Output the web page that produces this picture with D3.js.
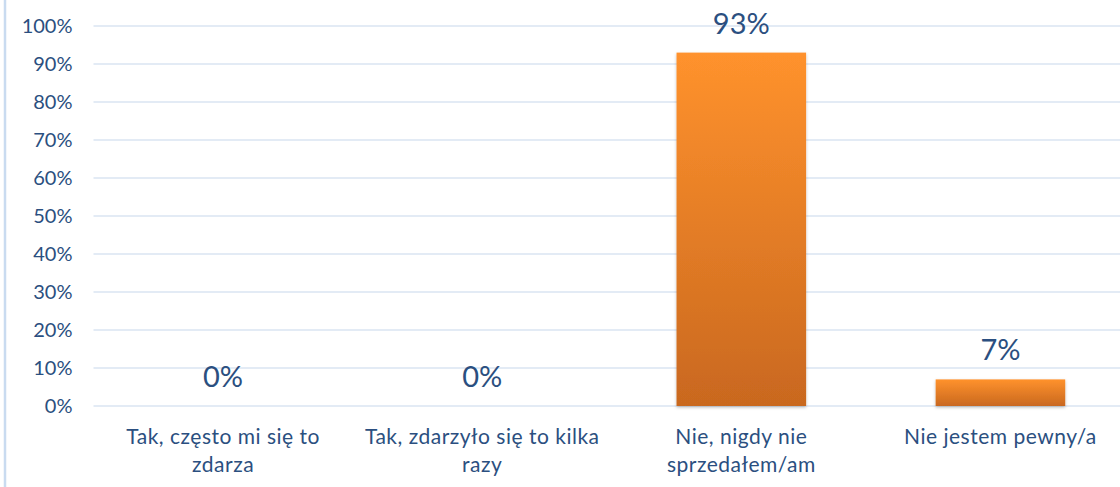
<!DOCTYPE html>
<html>
<head>
<meta charset="utf-8">
<script src="https://cdn.jsdelivr.net/npm/d3@7"></script>
<style>
  body { margin: 0; background: #fff; }
  .chart { width: 1120px; height: 487px; }
  text { font-family: Lato, "Open Sans", sans-serif; fill: #2b4f80; }
</style>
</head>
<body>
<div class="chart"></div>
<script>
/* data */
var categories = [
    "Tak, często mi się to zdarza",
    "Tak, zdarzyło się to kilka razy",
    "Nie, nigdy nie sprzedałem/am",
    "Nie jestem pewny/a"
];
var values = [0, 0, 93, 7];
var yTicks = [0, 10, 20, 30, 40, 50, 60, 70, 80, 90, 100];

var target = document.querySelector(".chart");
var margin = { top: 26, right: -10, bottom: 81, left: 93.5 };
var width = 1120 - margin.left - margin.right;
var height = 487 - margin.top - margin.bottom;

var xScale = d3.scaleBand()
    .domain(categories)
    .range([0, width])
    .paddingInner(0.5)
    .paddingOuter(0.25);
var yScale = d3.scaleLinear().domain([0, 100]).range([height, 0]);

var root = d3.select(target).append("svg")
    .attr("width", 1120)
    .attr("height", 487);

// left frame line
root.append("line")
    .attr("x1", 5).attr("x2", 5)
    .attr("y1", 0).attr("y2", 487)
    .attr("stroke", "#c9dbf0")
    .attr("stroke-width", 2.5);

var defs = root.append("defs");
var grad = defs.append("linearGradient")
    .attr("id", "barGrad")
    .attr("x1", 0).attr("y1", 0).attr("x2", 0).attr("y2", 1);
grad.append("stop").attr("offset", "0%").attr("stop-color", "#ff922d");
grad.append("stop").attr("offset", "100%").attr("stop-color", "#c9681f");

var shadow = defs.append("filter").attr("id", "shadow")
    .attr("x", "-10%").attr("y", "-10%").attr("width", "120%").attr("height", "130%");
shadow.append("feDropShadow")
    .attr("dx", 0).attr("dy", 1.5)
    .attr("stdDeviation", 1.5)
    .attr("flood-color", "#000")
    .attr("flood-opacity", 0.25);

var svg = root.append("g")
    .attr("transform", "translate(" + margin.left + "," + margin.top + ")");

// gridlines
svg.append("g")
    .selectAll("line")
    .data(yTicks)
    .enter().append("line")
    .attr("x1", 0)
    .attr("x2", width)
    .attr("y1", function(d) { return yScale(d); })
    .attr("y2", function(d) { return yScale(d); })
    .attr("stroke", "#dae5f2")
    .attr("stroke-width", 1.5);

// y axis
var yAxis = svg.append("g")
    .call(d3.axisLeft(yScale)
        .tickValues(yTicks)
        .tickSize(0)
        .tickPadding(21)
        .tickFormat(function(d) { return d + "%"; }));
yAxis.select(".domain").remove();
yAxis.selectAll("text")
    .attr("font-size", 20)
    .style("font-family", "Lato, sans-serif")
    .attr("fill", "#2b4f80");

// bars
svg.selectAll(".bar")
    .data(values)
    .enter().append("rect")
    .attr("class", "bar")
    .attr("x", function(d, i) { return xScale(categories[i]); })
    .attr("width", xScale.bandwidth())
    .attr("y", function(d) { return yScale(d); })
    .attr("height", function(d) { return height - yScale(d); })
    .attr("fill", "url(#barGrad)")
    .attr("filter", "url(#shadow)")
    .style("display", function(d) { return d > 0 ? null : "none"; });

// value labels
svg.selectAll(".val")
    .data(values)
    .enter().append("text")
    .attr("class", "val")
    .attr("x", function(d, i) { return xScale(categories[i]) + xScale.bandwidth() / 2; })
    .attr("y", function(d) { return yScale(d) - 19; })
    .attr("text-anchor", "middle")
    .attr("font-size", 29)
    .text(function(d) { return d + "%"; });

// x axis
var xAxis = svg.append("g")
    .attr("transform", "translate(0," + height + ")")
    .call(d3.axisBottom(xScale).tickSize(0).tickPadding(0));
xAxis.select(".domain").remove();
xAxis.selectAll("text")
    .attr("font-size", 21)
    .attr("dy", null)
    .style("letter-spacing", "0.5px")
    .style("font-family", "Lato, sans-serif")
    .attr("fill", "#2b4f80")
    .call(wrap, 245);

function wrap(texts, maxWidth) {
    texts.each(function() {
        var text = d3.select(this);
        var words = text.text().split(/\s+/);
        text.text(null);
        var lines = [];
        var line = [];
        var tspan = text.append("tspan");
        words.forEach(function(w) {
            line.push(w);
            tspan.text(line.join(" "));
            if (tspan.node().getComputedTextLength() > maxWidth && line.length > 1) {
                line.pop();
                lines.push(line.join(" "));
                line = [w];
            }
        });
        lines.push(line.join(" "));
        text.text(null);
        lines.forEach(function(l, k) {
            text.append("tspan")
                .attr("x", 0)
                .attr("y", 38 + k * 28)
                .text(l);
        });
    });
}
</script>
</body>
</html>
